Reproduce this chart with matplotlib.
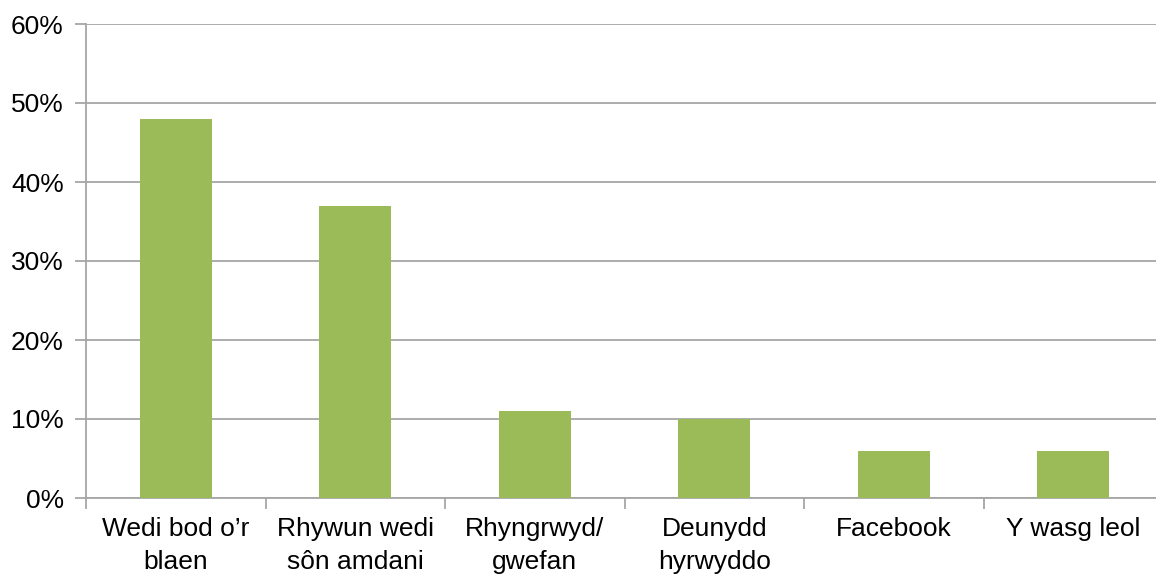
import matplotlib
matplotlib.use("Agg")
import matplotlib.pyplot as plt
from matplotlib.ticker import PercentFormatter, FixedLocator

categories = ["Wedi bod o\u2019r\nblaen", "Rhywun wedi\ns\u00f4n amdani", "Rhyngrwyd/\ngwefan",
              "Deunydd\nhyrwyddo", "Facebook", "Y wasg leol"]
values = [48, 37, 11, 10, 6, 6]
yticks = [0, 10, 20, 30, 40, 50, 60]

plt.rcParams['font.family'] = ['Liberation Sans', 'DejaVu Sans']
fig = plt.figure(figsize=(11.56, 5.74), dpi=100)
ax = fig.add_axes([86/1156, 76/574, (1163-86)/1156, (498-24)/574])

x = list(range(len(categories)))
ax.bar(x, values, width=0.4, color="#9BBB59", zorder=3)
ax.set_xlim(-0.5, len(categories) - 0.5)
ax.set_ylim(0, 60)
ax.set_yticks(yticks)
ax.yaxis.set_major_formatter(PercentFormatter(decimals=0))
ax.grid(axis='y', color='#A6A6A6', linewidth=1.3, zorder=0)

ax.set_xticks(x)
ax.set_xticklabels(categories, fontsize=19, linespacing=1.45)
ax.xaxis.set_minor_locator(FixedLocator([i - 0.5 for i in range(len(categories) + 1)]))
ax.tick_params(axis='x', which='major', length=0, pad=14)
ax.tick_params(axis='x', which='minor', length=8, color='#A6A6A6', width=1.3)
ax.tick_params(axis='y', length=8, color='#A6A6A6', width=1.3, labelsize=19, pad=8)

for s in ['top', 'right']:
    ax.spines[s].set_visible(False)
for s in ['left', 'bottom']:
    ax.spines[s].set_color('#A6A6A6')
    ax.spines[s].set_linewidth(1.3)

fig.savefig("out.png", dpi=100)
